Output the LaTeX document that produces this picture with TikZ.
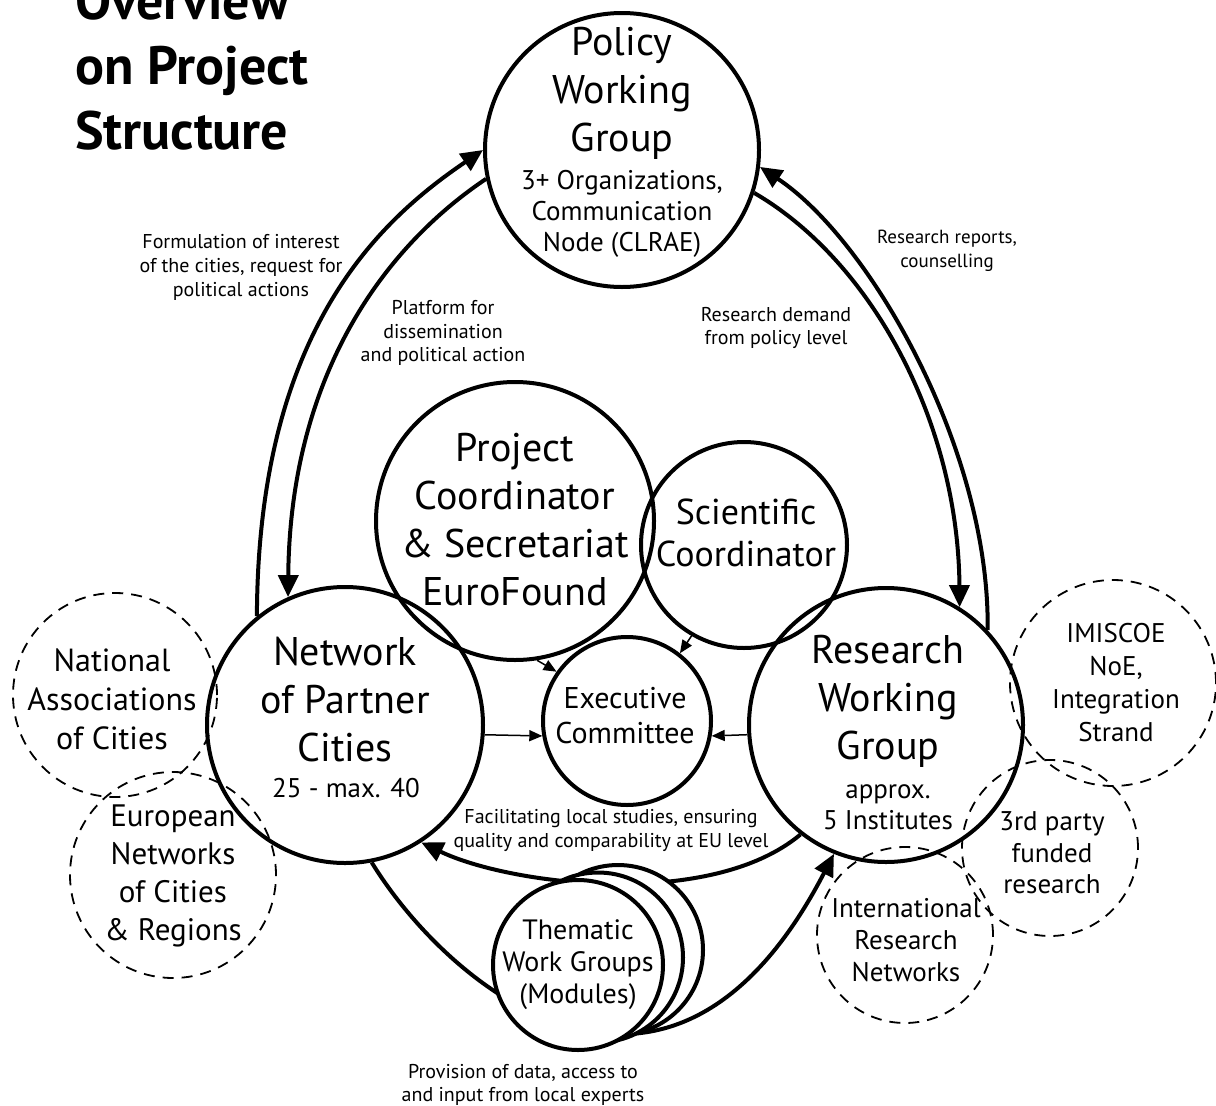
\documentclass[tikz,border=0pt]{standalone}
\usepackage{fontspec}
\setmainfont{PT Sans}
\usetikzlibrary{arrows.meta}

\begin{document}
\begin{tikzpicture}[x=1pt,y=-1pt,
    unit/.style={circle,draw,line width=4pt,inner sep=0pt},
    outer/.style={circle,draw,line width=1.8pt,dash pattern=on 11pt off 8pt,inner sep=0pt},
    flow/.style={line width=4pt,-{Triangle[length=22pt,width=20pt]}},
    feed/.style={line width=1.5pt,-{Triangle[length=13pt,width=11pt]}},
    txt/.style={align=center,inner sep=0pt}]
    \useasboundingbox (0,0) rectangle (1216,1106);

    % title
    \node[anchor=west,align=left,inner sep=0pt,font=\fontsize{54}{65}\selectfont\bfseries] (ttl) at (75,66) {Overview\\on Project\\Structure};

    % main circles
    \node[unit,minimum size=274pt] (pol) at (622,150) {};
    \node[unit,minimum size=276pt] (nwk) at (345,725) {};
    \node[unit,minimum size=274pt] (rwg) at (886,725) {};
    \node[unit,minimum size=278pt] (pco) at (515,521) {};
    \node[unit,minimum size=206pt] (sci) at (744,545) {};
    \node[unit,minimum size=168pt] (exe) at (627,721) {};

    % outside partners
    \node[outer,minimum size=204pt] (nat) at (115,695) {};
    \node[outer,minimum size=206pt] (eur) at (173,875) {};
    \node[outer,minimum size=206pt] (imi) at (1113,683) {};
    \node[outer,minimum size=176pt] (trd) at (1050,848) {};
    \node[outer,minimum size=176pt] (inr) at (905,935) {};

    % flows between the working groups
    \draw[flow] (nwk.129) .. controls (258,330) and (380,220) .. (pol.180);
    \draw[flow] (pol.192) .. controls (380,250) and (290,380) .. (nwk.114);
    \draw[flow] (rwg.43) .. controls (990,450) and (870,240) .. (pol.-7);
    \draw[flow] (pol.-18) .. controls (870,260) and (958,420) .. (rwg.58);
    \draw[flow] (rwg.232) .. controls (710,910) and (510,885) .. (nwk.-57);
    \draw[flow] (nwk.-79) .. controls (450,990) and (670,1170) .. (rwg.-112);

    % reporting to the executive committee
    \draw[feed] (nwk.-4) -- (exe.190);
    \draw[feed] (rwg.184) -- (exe.-10);
    \draw[feed] (pco.-81) -- (exe.145);
    \draw[feed] (sci.-120) -- (exe.52);

    % thematic work groups
    \foreach \d in {2,1}
        \node[unit,fill=white,minimum size=170pt] (thm\d) at (578+20*\d,965-7.5*\d) {};
    \node[unit,fill=white,minimum size=170pt] (thm) at (578,965) {};

    % texts in the circles
    \node[txt,font=\fontsize{40}{48}\selectfont] (polT) at (622,93) {Policy\\Working\\Group};
    \node[txt,font=\fontsize{27}{31}\selectfont] (polS) at (622,214) {3+ Organizations,\\Communication\\Node (CLRAE)};
    \node[txt,font=\fontsize{40}{48}\selectfont] (nwkT) at (345,700) {Network\\of Partner\\Cities};
    \node[txt,font=\fontsize{27}{31}\selectfont] (nwkS) at (346,788) {25 - max. 40};
    \node[txt,font=\fontsize{40}{48}\selectfont] (rwgT) at (888,701) {Research\\Working\\Group};
    \node[txt,font=\fontsize{27}{31}\selectfont] (rwgS) at (888,807) {approx.\\5 Institutes};
    \node[txt,font=\fontsize{40}{48}\selectfont] (pcoT) at (515,520) {Project\\Coordinator\\\& Secretariat\\EuroFound};
    \node[txt,font=\fontsize{36}{42}\selectfont] (sciT) at (746,533) {Scientific\\Coordinator};
    \node[txt,font=\fontsize{30}{35}\selectfont] (exeT) at (625,716) {Executive\\Committee};
    \node[txt,font=\fontsize{32}{39}\selectfont] (natT) at (112,699) {National\\Associations\\of Cities};
    \node[txt,font=\fontsize{31}{38}\selectfont] (eurT) at (173,876) {European\\Networks\\of Cities\\\& Regions};
    \node[txt,font=\fontsize{27}{33}\selectfont] (imiT) at (1116,683) {IMISCOE\\NoE,\\Integration\\Strand};
    \node[txt,font=\fontsize{27}{31.5}\selectfont] (trdT) at (1052,853) {3rd party\\funded\\research};
    \node[txt,font=\fontsize{27}{32}\selectfont] (inrT) at (906,940) {International\\Research\\Networks};
    \node[txt,font=\fontsize{28}{32}\selectfont] (thmT) at (578,965) {Thematic\\Work Groups\\(Modules)};

    % flow labels
    \node[txt,font=\fontsize{20}{24}\selectfont] (lbA) at (241,267) {Formulation of interest\\of the cities, request for\\political actions};
    \node[txt,font=\fontsize{20}{23.5}\selectfont] (lbB) at (443,333) {Platform for\\dissemination\\and political action};
    \node[txt,font=\fontsize{19}{24}\selectfont] (lbC) at (947,251) {Research reports,\\counselling};
    \node[txt,font=\fontsize{20}{23.5}\selectfont] (lbD) at (776,328) {Research demand\\from policy level};
    \node[txt,font=\fontsize{20}{24}\selectfont] (lbE) at (611,830) {Facilitating local studies, ensuring\\quality and comparability at EU level};
    \node[txt,font=\fontsize{20}{23.5}\selectfont] (lbF) at (523,1085) {Provision of data, access to\\and input from local experts};
\end{tikzpicture}
\end{document}
